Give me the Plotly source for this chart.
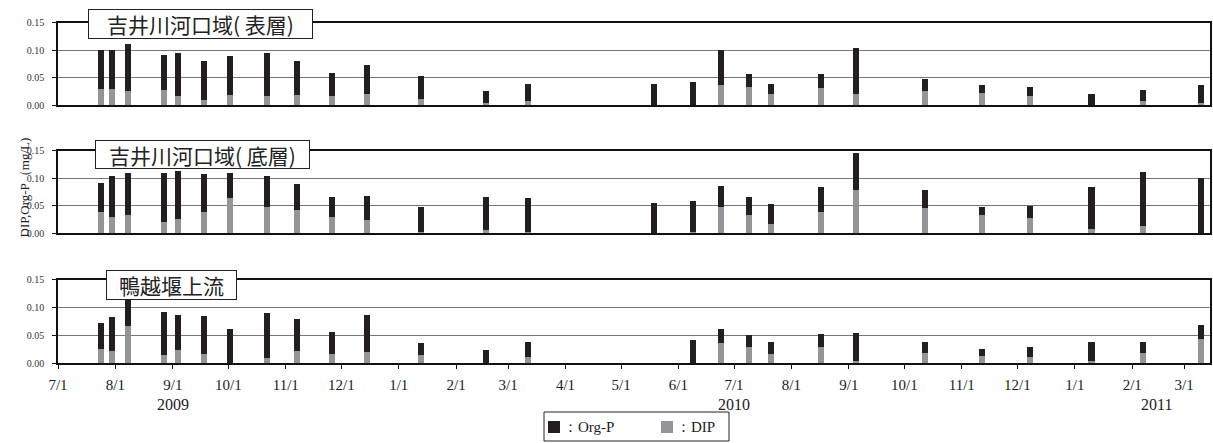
import plotly.graph_objects as go

dates = ["2009-07-24", "2009-07-30", "2009-08-08", "2009-08-27", "2009-09-04", "2009-09-18",
         "2009-10-02", "2009-10-22", "2009-11-07", "2009-11-26", "2009-12-15", "2010-01-13",
         "2010-02-17", "2010-03-12", "2010-05-19", "2010-06-09", "2010-06-24", "2010-07-09",
         "2010-07-21", "2010-08-17", "2010-09-05", "2010-10-12", "2010-11-12", "2010-12-08",
         "2011-01-10", "2011-02-07", "2011-03-10"]

panel_titles = ["吉井川河口域( 表層)", "吉井川河口域( 底層)", "鴨越堰上流"]

surface_dip = [0.029, 0.029, 0.026, 0.028, 0.017, 0.010, 0.019, 0.017, 0.019, 0.016, 0.020, 0.011,
               0.005, 0.007, 0.001, 0.001, 0.037, 0.034, 0.020, 0.031, 0.021, 0.026, 0.023, 0.016,
               0.001, 0.008, 0.004]
surface_orgp = [0.072, 0.071, 0.085, 0.064, 0.078, 0.071, 0.071, 0.078, 0.062, 0.043, 0.054, 0.043,
                0.021, 0.031, 0.037, 0.041, 0.064, 0.023, 0.019, 0.026, 0.083, 0.022, 0.013, 0.018,
                0.019, 0.019, 0.033]

bottom_dip = [0.039, 0.030, 0.032, 0.020, 0.025, 0.039, 0.063, 0.047, 0.042, 0.029, 0.024, 0.001,
              0.005, 0.001, 0.000, 0.001, 0.048, 0.033, 0.017, 0.038, 0.078, 0.045, 0.032, 0.028,
              0.007, 0.012, 0.000]
bottom_orgp = [0.052, 0.074, 0.077, 0.090, 0.088, 0.068, 0.047, 0.056, 0.047, 0.037, 0.044, 0.047,
               0.061, 0.063, 0.054, 0.057, 0.038, 0.033, 0.036, 0.045, 0.068, 0.033, 0.016, 0.022,
               0.076, 0.099, 0.101]

kamo_dip = [0.026, 0.022, 0.067, 0.015, 0.024, 0.017, 0.000, 0.010, 0.022, 0.016, 0.020, 0.015,
            0.000, 0.011, None, 0.000, 0.036, 0.029, 0.017, 0.029, 0.004, 0.019, 0.013, 0.011,
            0.004, 0.019, 0.044]
kamo_orgp = [0.046, 0.061, 0.053, 0.077, 0.063, 0.067, 0.061, 0.080, 0.058, 0.041, 0.067, 0.021,
             0.023, 0.027, None, 0.041, 0.025, 0.021, 0.021, 0.023, 0.050, 0.020, 0.013, 0.018,
             0.035, 0.020, 0.025]

year_labels = ["2009", "2010", "2011"]
year_dates = ["2009-09-01", "2010-07-01", "2011-02-14"]

legend_labels = ["：Org-P", "：DIP"]

ORG_COLOR = "#231f20"
DIP_COLOR = "#939598"
W, H = 1213, 443
BAR_W = 3.3 * 86400000

fig = go.Figure()

panels = [(surface_dip, surface_orgp), (bottom_dip, bottom_orgp), (kamo_dip, kamo_orgp)]
for i, (dip, orgp) in enumerate(panels):
    xa = "x" if i == 0 else f"x{i+1}"
    ya = "y" if i == 0 else f"y{i+1}"
    fig.add_trace(go.Bar(x=dates, y=dip, name="DIP", marker=dict(color=DIP_COLOR, line=dict(width=0)),
                         width=BAR_W, xaxis=xa, yaxis=ya, showlegend=False))
    fig.add_trace(go.Bar(x=dates, y=orgp, name="Org-P", marker=dict(color=ORG_COLOR, line=dict(width=0)),
                         width=BAR_W, xaxis=xa, yaxis=ya, showlegend=False))

# pixel geometry
x_dom = [58 / W, 1210 / W]
y_px = [(22.7, 105.3), (150.7, 233.0), (279.7, 363.3)]
serif = "Liberation Serif"

layout = dict(
    width=W, height=H, barmode="stack", plot_bgcolor="white", paper_bgcolor="white",
    margin=dict(l=0, r=0, t=0, b=0, autoexpand=False), showlegend=False,
)
for i, (top, bot) in enumerate(y_px):
    xk = "xaxis" if i == 0 else f"xaxis{i+1}"
    yk = "yaxis" if i == 0 else f"yaxis{i+1}"
    ya = "y" if i == 0 else f"y{i+1}"
    xa = "x" if i == 0 else f"x{i+1}"
    last = (i == 2)
    layout[xk] = dict(domain=x_dom, anchor=ya, type="date", automargin=False,
                      range=["2009-07-01", "2011-03-15"],
                      showline=True, linecolor="#111", linewidth=1.5, mirror=True,
                      showgrid=False, zeroline=False,
                      showticklabels=last, tick0="2009-07-01", dtick="M1", tickformat="%-m/%-d",
                      ticks="outside" if last else "", ticklen=4, tickcolor="#111",
                      ticklabelstandoff=3,
                      tickfont=dict(family=serif, size=15, color="#222"))
    layout[yk] = dict(domain=[1 - bot / H, 1 - top / H], anchor=xa, range=[0, 0.15], automargin=False,
                      dtick=0.05, tickformat=".2f", showline=True, linecolor="#111", linewidth=1.5,
                      mirror=True, showgrid=True, gridcolor="#777", gridwidth=1, zeroline=False,
                      ticks="outside", ticklen=4, tickcolor="#111", ticklabelstandoff=6,
                      tickfont=dict(family=serif, size=10, color="#333"))

fig.update_layout(**layout)

# title boxes
boxes = [(200.5, 24.5, 223, 28), (202.5, 154.7, 213, 27), (171.3, 285.0, 129, 28)]
for (cx, cy, bw, bh), t in zip(boxes, panel_titles):
    fig.add_annotation(x=cx / W, y=1 - cy / H, xref="paper", yref="paper", text=t,
                       showarrow=False, font=dict(family="Noto Sans CJK JP", size=21, color="#222"),
                       bgcolor="white", bordercolor="#222", borderwidth=1, borderpad=0,
                       width=bw, height=bh, xanchor="center", yanchor="middle")

# year labels
for lab, d in zip(year_labels, year_dates):
    fig.add_annotation(x=d, y=1 - 404 / H, xref="x3", yref="paper", text=lab, showarrow=False,
                       font=dict(family=serif, size=16, color="#222"), yanchor="middle")

# legend box (frame, swatches, labels)
fig.add_shape(type="rect", xref="paper", yref="paper", x0=544 / W, x1=729 / W,
              y0=1 - 441 / H, y1=1 - 412 / H, line=dict(color="#222", width=1), fillcolor="white")
sw_x = [548, 661]
lab_x = [561, 674]
for sx, lx, col, lab in zip(sw_x, lab_x, [ORG_COLOR, DIP_COLOR], legend_labels):
    fig.add_shape(type="rect", xref="paper", yref="paper", x0=sx / W, x1=(sx + 12) / W,
                  y0=1 - 433 / H, y1=1 - 421 / H, line=dict(width=0), fillcolor=col)
    fig.add_annotation(x=lx / W, y=1 - 427 / H, xref="paper", yref="paper", text=lab,
                       showarrow=False, xanchor="left", yanchor="middle",
                       font=dict(family=serif, size=15, color="#222"))

# y axis title
fig.add_annotation(x=14 / W, y=1 - 188 / H, xref="paper", yref="paper", text="DIP,Org-P（mg/L)",
                   textangle=-90, showarrow=False, font=dict(family=serif, size=13, color="#222"))

fig.write_html("out.html", config={"displayModeBar": False},
               post_script="document.body.style.margin='0px';document.body.style.overflow='hidden';")
